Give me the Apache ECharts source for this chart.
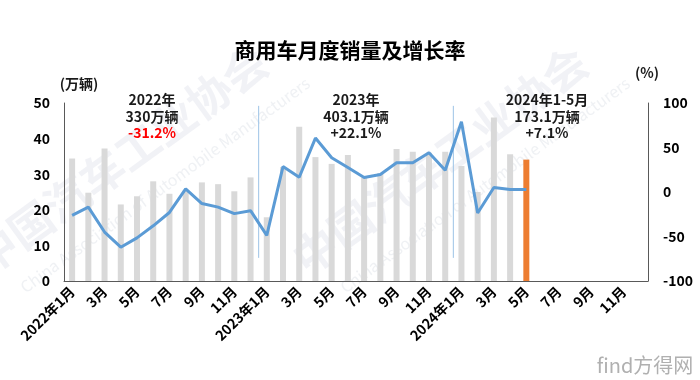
<!DOCTYPE html>
<html>
<head>
<meta charset="utf-8">
<script src="https://cdn.jsdelivr.net/npm/echarts@6/dist/echarts.min.js"></script>
<style>html,body{margin:0;padding:0;background:#fff;}#c{width:700px;height:380px;}</style>
</head>
<body>
<div id="c"></div>
<script>
// ---- data ----
const categories = [
  '2022年1月','2月','3月','4月','5月','6月','7月','8月','9月','10月','11月','12月',
  '2023年1月','2月','3月','4月','5月','6月','7月','8月','9月','10月','11月','12月',
  '2024年1月','2月','3月','4月','5月','6月','7月','8月','9月','10月','11月','12月'
];
// monthly sales (万辆)
const sales = [34.4, 24.8, 37.2, 21.5, 23.8, 28.0, 24.5, 25.5, 27.7, 27.2, 25.2, 29.1,
               17.9, 32.0, 43.3, 34.8, 32.9, 35.4, 29.0, 30.3, 37.1, 36.3, 36.0, 36.3,
               32.3, 25.0, 45.9, 35.6, 34.1];
// year-on-year growth (%)
const growth = [-26.2, -17.0, -45.0, -62.0, -51.5, -38.0, -23.0, 3.5, -13.0, -17.0, -24.3, -21.0,
                -48.7, 28.6, 16.6, 60.6, 38.4, 27.5, 16.2, 19.6, 32.8, 32.8, 44.2, 24.5,
                79.0, -23.6, 5.0, 2.7, 2.7];
const highlightIndex = 28;
const yearBoundaries = [12, 24];
const boundarySpan = [49.2, 6.5];
const leftTicks = [0, 50, 10];
const rightTicks = [-100, 100, 50];
const annotations = [
  { lines: ['2022年', '330万辆', '-31.2%'], x: 152 },
  { lines: ['2023年', '403.1万辆', '+22.1%'], x: 356 },
  { lines: ['2024年1-5月', '173.1万辆', '+7.1%'], x: 547 }
];

const FONT = '"Noto Sans CJK SC", "Noto Sans", sans-serif';
const chart = echarts.init(document.getElementById('c'));

const barData = sales.map((v, i) => ({
  value: v,
  itemStyle: { color: i === highlightIndex ? '#ED7D31' : '#D9D9D9' }
}));

const sepSeries = yearBoundaries.map(b => ({
  type: 'line', xAxisIndex: 1, yAxisIndex: 0, silent: true, symbol: 'none',
  lineStyle: { color: '#9DC3E6', width: 1 },
  data: [[b, boundarySpan[0]], [b, boundarySpan[1]]], z: 3
}));

const graphics = [];
const lineY = [100, 116.5, 133];
annotations.forEach((a, ai) => {
  a.lines.forEach((t, li) => {
    graphics.push({
      type: 'text', x: a.x, y: lineY[li],
      style: {
        text: t, align: 'center', verticalAlign: 'middle',
        fontSize: 14, fontWeight: 'bold', fontFamily: FONT,
        fill: (ai === 0 && li === 2) ? '#FF0000' : '#1a1a1a'
      }, z: 10
    });
  });
});
graphics.push({ type: 'text', x: 79, y: 84, style: { text: '(万辆)', align: 'center', verticalAlign: 'middle', fontSize: 14, fontWeight: 'bold', fontFamily: FONT, fill: '#1a1a1a' } });
graphics.push({ type: 'text', x: 647, y: 73, style: { text: '(%)', align: 'center', verticalAlign: 'middle', fontSize: 14, fontWeight: 'bold', fontFamily: FONT, fill: '#1a1a1a' } });
// faint watermark
graphics.push({ type: 'text', x: 120, y: 160, rotation: Math.PI * 0.2, style: { text: '中国汽车工业协会', align: 'center', verticalAlign: 'middle', fontSize: 44, fontWeight: 'bold', fontFamily: FONT, fill: 'rgba(190,198,212,0.22)' }, z: -1 });
graphics.push({ type: 'text', x: 165, y: 185, rotation: Math.PI * 0.2, style: { text: 'China Association of Automobile Manufacturers', align: 'center', verticalAlign: 'middle', fontSize: 16, fontFamily: FONT, fill: 'rgba(190,198,212,0.25)' }, z: -1 });
graphics.push({ type: 'text', x: 440, y: 160, rotation: Math.PI * 0.2, style: { text: '中国汽车工业协会', align: 'center', verticalAlign: 'middle', fontSize: 44, fontWeight: 'bold', fontFamily: FONT, fill: 'rgba(190,198,212,0.22)' }, z: -1 });
graphics.push({ type: 'text', x: 485, y: 185, rotation: Math.PI * 0.2, style: { text: 'China Association of Automobile Manufacturers', align: 'center', verticalAlign: 'middle', fontSize: 16, fontFamily: FONT, fill: 'rgba(190,198,212,0.25)' }, z: -1 });
graphics.push({ type: 'text', x: 645, y: 365, style: { text: 'find方得网', align: 'center', verticalAlign: 'middle', fontSize: 20, fontFamily: FONT, fill: '#b0b0b0' } });

chart.setOption({
  animation: false,
  backgroundColor: '#fff',
  title: {
    text: '商用车月度销量及增长率', left: 'center', top: 35,
    textStyle: { fontSize: 21, fontWeight: 'bold', fontFamily: FONT, color: '#000' }
  },
  grid: { left: 64, right: 52, top: 103, bottom: 99 },
  xAxis: [{
    type: 'category', data: categories, boundaryGap: true,
    axisLine: { lineStyle: { color: '#595959', width: 1 } },
    axisTick: { show: false },
    axisLabel: { interval: 1, rotate: 45, fontSize: 14, fontWeight: 'bold', fontFamily: FONT, color: '#000', margin: 8 }
  }, {
    type: 'value', min: 0, max: categories.length, show: false
  }],
  yAxis: [{
    type: 'value', min: leftTicks[0], max: leftTicks[1], interval: leftTicks[2],
    axisLine: { show: true, lineStyle: { color: '#595959' } },
    axisTick: { show: false }, splitLine: { show: false },
    axisLabel: { fontSize: 14, fontWeight: 'bold', fontFamily: FONT, color: '#000', margin: 14 }
  }, {
    type: 'value', min: rightTicks[0], max: rightTicks[1], interval: rightTicks[2],
    axisLine: { show: true, lineStyle: { color: '#595959' } },
    axisTick: { show: false }, splitLine: { show: false },
    axisLabel: { fontSize: 14, fontWeight: 'bold', fontFamily: FONT, color: '#000', margin: 15 }
  }],
  graphic: graphics,
  series: [{
    type: 'bar', data: barData, barWidth: 6, yAxisIndex: 0, z: 2
  }, {
    type: 'line', data: growth, yAxisIndex: 1, symbol: 'none',
    lineStyle: { color: '#5B9BD5', width: 3 }, z: 4
  }].concat(sepSeries)
});
</script>
</body>
</html>
